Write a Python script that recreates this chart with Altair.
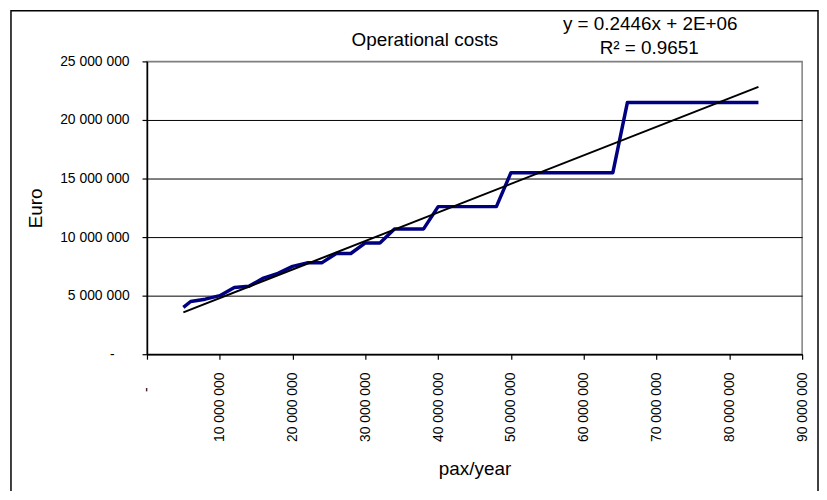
import altair as alt
import pandas as pd

# pax/year (x) and operational cost in Euro (y), sampled every 2 million pax
pax = [5e6, 6e6, 8e6, 10e6, 12e6, 14e6, 16e6, 18e6, 20e6, 22e6, 24e6, 26e6, 28e6,
       30e6, 32e6, 34e6, 36e6, 38e6, 40e6, 42e6, 44e6, 46e6, 48e6, 50e6, 52e6, 54e6,
       56e6, 58e6, 60e6, 62e6, 64e6, 66e6, 68e6, 70e6, 72e6, 74e6, 76e6, 78e6, 80e6,
       82e6, 84e6]
cost = [4.0e6, 4.5e6, 4.7e6, 5.0e6, 5.7e6, 5.8e6, 6.5e6, 6.9e6, 7.5e6, 7.8e6, 7.8e6, 8.6e6, 8.6e6,
        9.5e6, 9.5e6, 10.7e6, 10.7e6, 10.7e6, 12.6e6, 12.6e6, 12.6e6, 12.6e6, 12.6e6, 15.5e6, 15.5e6, 15.5e6,
        15.5e6, 15.5e6, 15.5e6, 15.5e6, 15.5e6, 21.5e6, 21.5e6, 21.5e6, 21.5e6, 21.5e6, 21.5e6, 21.5e6, 21.5e6,
        21.5e6, 21.5e6]

x_ticks = [0, 10e6, 20e6, 30e6, 40e6, 50e6, 60e6, 70e6, 80e6, 90e6]
y_ticks = [0, 5e6, 10e6, 15e6, 20e6, 25e6]

title_text = "Operational costs"
eq_text = "y = 0.2446x + 2E+06"
r2_text = "R\u00b2 = 0.9651"

df = pd.DataFrame({"x": pax, "y": cost})
FONT = "Liberation Sans"
W, H = 660, 295

lab_expr = "datum.value == 0 ? '-' : replace(format(datum.value, ','), /,/g, ' ')"
zero_pad = {"condition": {"test": "datum.value == 0", "value": 28}, "value": 13}

xs = alt.Scale(domain=[0, 90e6], nice=False)
ys = alt.Scale(domain=[0, 25e6], nice=False)

xax = alt.Axis(values=x_ticks, labelExpr=lab_expr, labelAngle=270,
               labelAlign="right", labelBaseline="middle", labelPadding=zero_pad, tickSize=5,
               grid=False, domainColor="black", tickColor="black", title="pax/year",
               titlePadding=18, labelColor="black", titleColor="black")
yax = alt.Axis(values=y_ticks, labelExpr=lab_expr, tickSize=5,
               labelPadding=zero_pad, grid=True,
               gridColor={"condition": {"test": "datum.value == 25000000", "value": "#808080"},
                          "value": "black"},
               gridWidth=1, domainColor="black", tickColor="black", title="Euro",
               titlePadding=14, labelColor="black", titleColor="black")

base = alt.Chart(df)
line = base.mark_line(color="#000080", strokeWidth=3.5, strokeJoin="round").encode(
    x=alt.X("x:Q", scale=xs, axis=xax),
    y=alt.Y("y:Q", scale=ys, axis=yax),
)
trend = base.transform_regression("x", "y", extent=[5e6, 84e6]).mark_line(
    color="black", strokeWidth=2).encode(
    x=alt.X("x:Q", scale=xs), y=alt.Y("y:Q", scale=ys))

one = pd.DataFrame({"t": [title_text], "e": [eq_text], "r": [r2_text]})
tb = alt.Chart(one)
t1 = tb.mark_text(font=FONT, fontSize=19, color="black").encode(
    text="t:N", x=alt.value(280), y=alt.value(-22))
t2 = tb.mark_text(font=FONT, fontSize=19, color="black").encode(
    text="e:N", x=alt.value(507), y=alt.value(-38))
t3 = tb.mark_text(font=FONT, fontSize=19, color="black").encode(
    text="r:N", x=alt.value(506), y=alt.value(-13))
border = tb.mark_rect(fill=None, stroke="black", strokeWidth=1.5, clip=False).encode(
    x=alt.value(-137), x2=alt.value(676), y=alt.value(-51), y2=alt.value(445))

chart = alt.layer(border, line, trend, t1, t2, t3).properties(
    width=W, height=H,
    background="white",
    autosize=alt.AutoSizeParams(type="none"),
    padding={"left": 140, "top": 52, "right": 17, "bottom": 136},
).configure_view(stroke="#808080", strokeWidth=1.5).configure_axis(
    labelFont=FONT, titleFont=FONT, labelFontSize=14, titleFontSize=19,
    titleFontWeight="normal", domainWidth=1.5, tickWidth=1.2,
)

chart.save("out.html", embed_options={"renderer": "svg", "actions": False})
